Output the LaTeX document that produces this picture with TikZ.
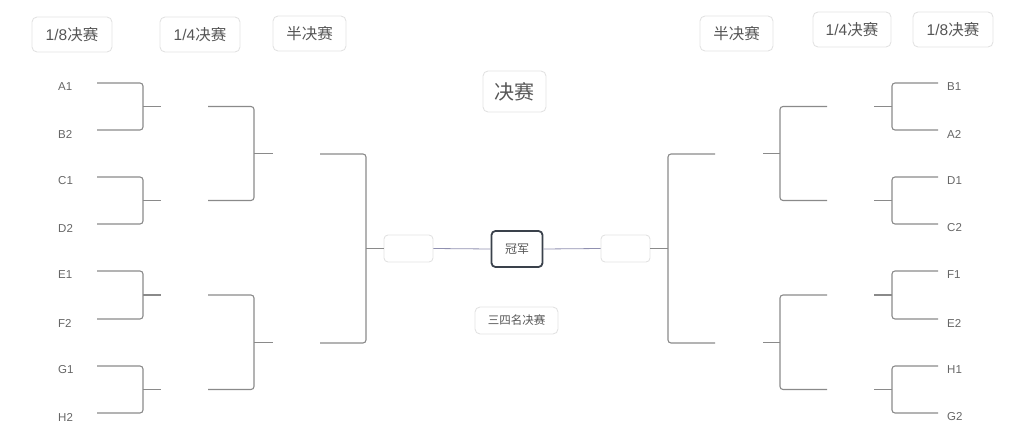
\documentclass[tikz,border=0pt]{standalone}
\usepackage{fontspec}
\setmainfont{Liberation Sans}
\newfontfamily\cjk{Noto Sans CJK SC}
\definecolor{linegray}{HTML}{8A8A8A}
\definecolor{boxgray}{HTML}{E2E2E2}
\definecolor{txtgray}{HTML}{555555}
\definecolor{champ}{HTML}{3A414B}
\definecolor{purp}{HTML}{9090B0}
\tikzset{
  hdr/.style={draw=boxgray, line width=0.9pt, rounded corners=5pt, text=txtgray, font=\fontsize{15.5}{18}\selectfont, inner sep=0pt, minimum height=35pt},
  lbl/.style={anchor=west, text=txtgray!90, font=\fontsize{11.5}{13}\selectfont, inner sep=0pt},
  bline/.style={draw=linegray, line width=1.1pt, rounded corners=3pt},
  stub/.style={draw=linegray, line width=1.1pt},
  emptybox/.style={draw=boxgray, line width=0.9pt, rounded corners=4pt, minimum width=49pt, minimum height=27pt, inner sep=0pt},
  champbox/.style={draw=champ, line width=1.8pt, rounded corners=4pt, minimum width=51pt, minimum height=36pt, inner sep=0pt, text=txtgray, font=\cjk\fontsize{12}{14}\selectfont},
  link/.style={draw=purp, line width=0.8pt}
}
% bracket: x1 (outer), x2 (joint), ya, yb, xout, name
\newcommand{\brk}[6]{%
  \coordinate (#6a) at (#1,#3);
  \coordinate (#6b) at (#1,#4);
  \coordinate (#6m) at (#2,{(#3+#4)/2});
  \coordinate (#6o) at (#5,{(#3+#4)/2});
  \draw[bline] (#6a) -- (#2,#3) -- (#2,#4) -- (#6b);
  \draw[stub] (#6m) -- (#6o);
}
\begin{document}
\begin{tikzpicture}[x=1pt,y=-1pt]
\useasboundingbox (0,0) rectangle (1024,433);
% headers
\node[hdr, minimum width=80pt] (h8l) at (72,34.5) {1/8{\cjk 决赛}};
\node[hdr, minimum width=80pt] (h4l) at (200,34.5) {1/4{\cjk 决赛}};
\node[hdr, minimum width=73pt, font=\cjk\fontsize{15.5}{18}\selectfont] (h2l) at (309.5,33.5) {半决赛};
\node[hdr, minimum width=73pt, font=\cjk\fontsize{15.5}{18}\selectfont] (h2r) at (736.5,33.5) {半决赛};
\node[hdr, minimum width=78pt] (h4r) at (852,29.5) {1/4{\cjk 决赛}};
\node[hdr, minimum width=80pt] (h8r) at (953,29.5) {1/8{\cjk 决赛}};
\node[hdr, minimum width=63pt, minimum height=41pt, font=\cjk\fontsize{20}{24}\selectfont] (final) at (514.5,91.5) {决赛};
\node[hdr, minimum width=83pt, minimum height=27pt, font=\cjk\fontsize{11.5}{14}\selectfont] (third) at (516.5,320.5) {三四名决赛};
% labels
\foreach \t/\y [count=\i] in {A1/83,B2/130,C1/177,D2/224,E1/271,F2/319,G1/366,H2/413}
  \node[lbl] (L\i) at (58,\y+4) {\t};
\foreach \t/\y [count=\i] in {B1/83,A2/130,D1/177,C2/224,F1/271,E2/319,H1/366,G2/413}
  \node[lbl] (R\i) at (947,\y+4) {\t};
% left brackets
\brk{97}{143}{83}{130}{161}{la}
\brk{97}{143}{177}{224}{161}{lb}
\brk{97}{143}{271}{319}{161}{lc}
\brk{97}{143}{366}{413}{161}{ld}
\brk{208}{254}{106.5}{200.5}{273}{le}
\brk{208}{254}{295}{389.5}{273}{lf}
\brk{320}{366}{154}{343}{366}{lg}
% right brackets
\brk{938}{892}{83}{130}{874}{ra}
\brk{938}{892}{177}{224}{874}{rb}
\brk{938}{892}{271}{319}{874}{rc}
\brk{938}{892}{366}{413}{874}{rd}
\brk{827}{780}{106.5}{200.5}{763}{re}
\brk{827}{780}{295}{389.5}{763}{rf}
\brk{715}{668}{154}{343}{668}{rg}
% centre
\node[emptybox] (sl) at (408.5,248.5) {};
\node[emptybox] (sr) at (625.5,248.5) {};
\node[champbox] (champ) at (517,249) {冠军};
\draw[stub] (lgm) -- (sl.west);
\draw[stub] (rgm) -- (sr.east);
\draw[link] (sl.east) -- (champ.west);
\draw[link] (champ.east) -- (sr.west);
\end{tikzpicture}
\end{document}
